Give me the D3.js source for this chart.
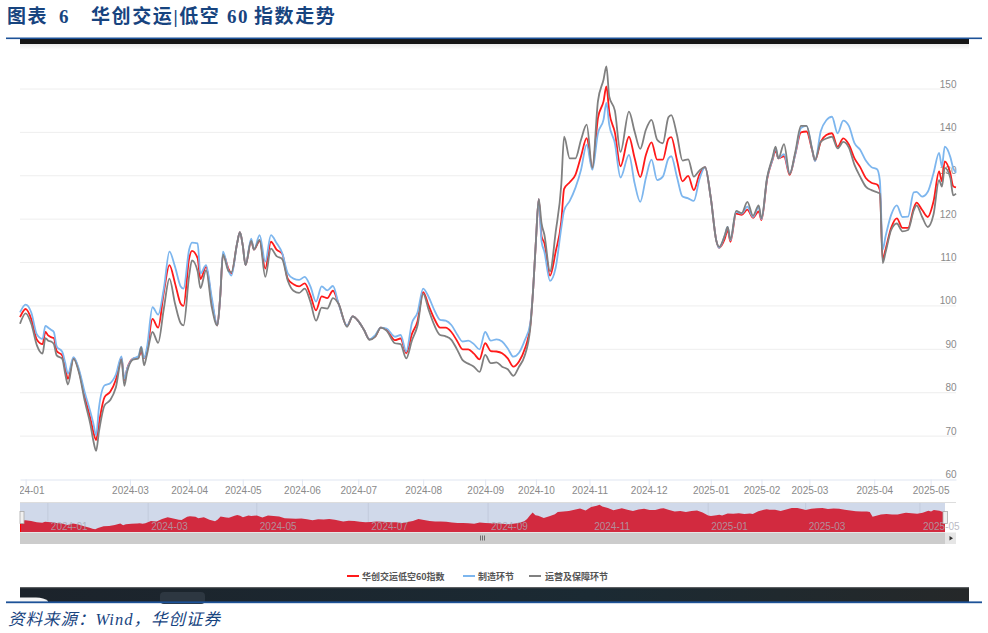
<!DOCTYPE html>
<html>
<head>
<meta charset="utf-8">
<script src="https://cdn.jsdelivr.net/npm/d3@7/dist/d3.min.js"></script>
<style>
  body { margin: 0; background: #fff; }
  svg { display: block; }
</style>
</head>
<body>
<div id="graph-container"></div>
<script>
// trading day offset of every reading
const tradeDays = [
  0,2,4,6,8,9,10,11,12,13,15,16,17,19,21,23,25,26,27,28,
  30,32,34,36,37,38,40,42,43,44,45,47,49,51,53,55,57,58,60,61,
  63,64,66,68,70,71,72,74,75,77,78,79,80,82,83,85,87,89,91,93,
  95,97,99,101,103,105,107,109,111,113,116,118,120,122,124,126,128,130,133,135,
  137,139,141,143,145,147,149,151,153,155,157,159,161,163,165,167,169,171,173,175,
  177,179,181,182,183,184,185,186,188,190,192,193,195,197,199,201,203,205,207,208,
  209,211,213,216,218,220,222,224,226,228,230,231,233,235,237,239,241,243,245,247,
  248,250,251,252,254,256,258,260,262,263,265,267,268,269,271,273,275,277,279,281,
  282,284,286,288,290,292,294,296,298,300,302,304,305,306,307,309,311,313,315,317,
  318,320,322,324,326,327,328,330,331,332
];

// 华创交运低空60指数
const lowAltIndex = [
  97.4,99.3,97,92.2,91.2,94,93.2,92.8,92.6,89.6,88.6,85.8,83.2,88,84.8,79,74,71,69.1,73,
  79,80.2,83,88,82.9,85.5,87.8,88.1,89.5,87.9,89.5,97,95,103.1,109.4,105.2,100.5,100,111,112.7,
  111,106.2,109,101.2,95.5,102,112,108.5,107.5,114.4,117,114,109.4,115,113,115,108.6,114.8,113,112,
  106.2,105,104.5,105.2,102.5,99,102.2,101.8,103.5,100.5,95.4,97.6,96.5,94.5,92.3,93,95,94.5,92.1,92.5,
  89.1,93.5,96.5,103.2,100,97,95,95,94,92,90,90,89,87.7,91.4,89.6,89.5,89.1,87.9,86,
  87.2,90,95.5,103.7,115,124.6,116,114.5,107,112.5,119.5,127,128.5,130.2,134.5,138.7,131.8,143.3,147.2,150.6,
  144.8,140,132.2,139,134.1,129.7,134.8,137.7,133.7,133.7,138.5,138.9,133.7,128.7,130,126.7,130.3,132,125,115,
  113.4,115.5,117.5,114.8,121.3,121,122.2,120.3,121.8,119.8,129.2,133.8,135.8,134,134.5,130.2,135,140,140.2,135.8,
  133.5,137.8,139.4,139.8,136.7,138.6,137.2,134,132,129.5,128.4,128,126.7,110.7,113,118,120.2,118,118,122.5,
  123.8,122.1,120.5,124,131,128.7,133.3,130.5,127.6,127.3
];

// 制造环节
const manufacturing = [
  98.5,100.3,98.5,93.4,92.4,95.4,95,94.5,94,90.7,89.4,87,84.4,88.2,85.2,80,75.5,73,70.2,76.5,
  81.7,82.2,84.2,88.4,83.2,85.5,87.8,88.4,90.6,88,90.3,99.7,98,103.9,112.5,109,104.5,104,113,114.6,
  114.4,107.5,109.4,102,95.5,102,112.5,108,107,114.4,117,114,109.4,115.5,113,116.3,110.2,116.3,114.5,112.2,
  107.5,106.3,106,106.7,104.5,101,104.5,103.6,104.6,100.5,95.5,97.6,96.5,94.5,92.3,93.3,95,94.8,92.9,93.3,
  89.5,96,98.5,104,102,99,96.8,96.6,95.6,93.5,91.8,92,91.2,90,94,92,92.3,91.8,90.2,88.3,
  89.2,92,96,103.7,115,124.6,114.8,112.5,105.8,108.8,118,122,124.2,127.2,131.4,137.2,131.4,139.8,143,146.8,
  141.8,137.5,129.6,134.8,128.3,124,129.5,133.7,129,129.8,134,134.5,129.8,125.2,124.8,124.2,129.2,132,125,115,
  113.4,116.3,118.2,115.1,121.7,121.3,122.9,120.5,122.8,120,129.4,134,136.5,134,135,130.5,135,141,141.5,136,
  133.4,140.2,142.8,143.6,139.8,142.7,141.5,137.5,136,133.5,132,131.5,128.9,113,116,121,123.2,120.5,120.6,126.2,
  126.3,125.2,126.3,130.5,135.3,132.1,136.7,134.3,131.8,130.7
];

// 运营及保障环节
const logistics = [
  95.9,98.3,95.9,90.9,89,92.6,92,91.8,91.2,88.6,87.8,84.5,81.9,87.8,84.4,78,72.6,69,66.6,71,
  77.1,78.3,81.2,87.6,81.6,84.8,87.6,87.9,90.5,86.3,88.7,94,91.5,99.3,106.3,100.5,96,95.5,107,110.5,
  108,104.1,108.2,99.8,95.5,102,111.8,108,107.8,114.4,117,114,109.4,115,113,115.2,106.7,113.2,111.5,110.8,
  105.8,103.5,103,104,101,96.6,99.6,99.4,101.8,100.5,95.2,97.6,96.5,94.5,92.2,92.9,95,94.3,91.4,91.2,
  87.9,92,95.5,102.8,99,95.5,93.3,93,92.2,90,87.5,86.7,86,84.8,88.7,86.8,87,86,85.4,83.9,
  86,88.5,95,103.7,115,124.6,119,116.4,108,117,128,139,134,134,138.3,141.8,131.8,147.2,152.2,155.2,
  148.3,145,135.5,144.8,140.2,136.2,140.6,142.9,138.3,137.5,143.5,144,139.5,133.5,133.8,129.8,131.2,132,125,115,
  113.6,116.3,118.2,115.3,121.9,121.4,124,120.8,123.2,120.2,129.6,134.4,136.7,134,137.3,130.4,135.5,141.5,141.5,136,
  133.6,137.8,138.6,139,136.3,137.8,136.5,132.5,129.8,127.5,126.7,126.2,125.9,109.9,112.3,117.5,119,117.2,117.5,122,
  123.2,120.5,118.2,121,129,127.5,131.8,129.5,125.5,125.9
];

const yTicks = [60, 70, 80, 90, 100, 110, 120, 130, 140, 150];
const xTickDays = [2, 39, 60, 79, 100, 120, 143, 165, 183, 202, 223, 245, 263, 280, 303, 323];
const xTickLabels = ["2024-01", "2024-03", "2024-04", "2024-05", "2024-06", "2024-07", "2024-08", "2024-09",
  "2024-10", "2024-11", "2024-12", "2025-01", "2025-02", "2025-03", "2025-04", "2025-05"];
const navTickDays = [10, 46, 85, 125, 168, 205, 247, 282, 323];
const navTickLabels = ["2024-01", "2024-03", "2024-05", "2024-07", "2024-09", "2024-11", "2025-01", "2025-03", "2025-05"];
const seriesNames = ["华创交运低空60指数", "制造环节", "运营及保障环节"];
const seriesColors = ["#ff1a1a", "#7db6ee", "#808080"];

const svgWidth = 988;
const svgHeight = 633;
const blue = "#17447f";
const serifCjk = "'Liberation Serif', 'Noto Sans CJK SC', serif";

const svg = d3.select("#graph-container").append("svg")
  .attr("width", svgWidth)
  .attr("height", svgHeight)
  .style("background", "#fff");

const defs = svg.append("defs");
defs.append("clipPath").attr("id", "plot-clip")
  .append("rect").attr("x", 20).attr("y", 40).attr("width", 949).attr("height", 470);
const fade = defs.append("linearGradient").attr("id", "top-fade")
  .attr("x1", 0).attr("x2", 0).attr("y1", 0).attr("y2", 1);
fade.append("stop").attr("offset", 0).attr("stop-color", "#e9e9e9");
fade.append("stop").attr("offset", 1).attr("stop-color", "#fff");
const bottomFill = defs.append("linearGradient").attr("id", "bottom-fill");
bottomFill.append("stop").attr("offset", 0).attr("stop-color", "#1c232b");
bottomFill.append("stop").attr("offset", 0.6).attr("stop-color", "#1b2a33");
bottomFill.append("stop").attr("offset", 1).attr("stop-color", "#252829");

// Title
function titleText(x, str) {
  svg.append("text")
    .attr("x", x).attr("y", 23)
    .attr("font-family", serifCjk)
    .attr("font-weight", 700)
    .attr("font-size", 19)
    .attr("letter-spacing", 1.6)
    .attr("fill", blue)
    .text(str);
}
titleText(7, "图表");
titleText(59, "6");
titleText(91, "华创交运|低空");
titleText(227, "60");
titleText(254, "指数走势");

// Header and footer rules with the dark screenshot bars
svg.append("rect").attr("x", 20).attr("y", 38).attr("width", 949).attr("height", 6).attr("fill", "#141414");
svg.append("rect").attr("x", 20).attr("y", 44).attr("width", 949).attr("height", 6).attr("fill", "url(#top-fade)");
svg.append("rect").attr("x", 6).attr("y", 37.5).attr("width", 976).attr("height", 1.6).attr("fill", "#1d5298");

svg.append("rect").attr("x", 20).attr("y", 587).attr("width", 949).attr("height", 15).attr("fill", "url(#bottom-fill)");
svg.append("rect").attr("x", 20).attr("y", 587).attr("width", 949).attr("height", 1.2).attr("fill", "#5c5f62");
svg.append("rect").attr("x", 160).attr("y", 592).attr("width", 45).attr("height", 12).attr("rx", 4).attr("fill", "#2d3741");
svg.append("path").attr("d", "M20 597.5H36Q44 597.5 48 601V602H20Z").attr("fill", "#f4f4f4");
svg.append("rect").attr("x", 6).attr("y", 601.4).attr("width", 976).attr("height", 1.8).attr("fill", "#1d5298");

svg.append("text")
  .attr("x", 8).attr("y", 625)
  .attr("font-family", serifCjk)
  .attr("font-style", "italic")
  .attr("font-size", 16.5)
  .attr("letter-spacing", 1)
  .attr("fill", blue)
  .text("资料来源\uFF1AWind\uFF0C华创证券");

// Scales
const x = d3.scaleLinear().domain([0, 332]).range([20, 956]);
const y = d3.scaleLinear().domain([60, 150]).range([479.5, 89]);

// Grid
svg.append("g").selectAll("line")
  .data(yTicks.slice(1))
  .join("line")
  .attr("x1", 20).attr("x2", 956)
  .attr("y1", d => y(d)).attr("y2", d => y(d))
  .attr("stroke", "#eeeeee")
  .attr("stroke-width", 1);

// Y axis, labels sit above their grid lines
const yAxis = svg.append("g")
  .attr("transform", "translate(956.5,0)")
  .call(d3.axisLeft(y).tickValues(yTicks).tickSize(0).tickPadding(0));
yAxis.select(".domain").remove();
yAxis.selectAll("text")
  .attr("dy", "-0.2em")
  .attr("font-family", "'Liberation Sans', sans-serif")
  .attr("font-size", 10)
  .attr("fill", "#8a8a8a");

// X axis
const xAxis = svg.append("g")
  .attr("clip-path", "url(#plot-clip)")
  .append("g")
  .attr("transform", "translate(0,479.5)")
  .call(d3.axisBottom(x)
    .tickValues(xTickDays)
    .tickFormat((d, i) => xTickLabels[i])
    .tickSize(7)
    .tickPadding(0)
    .tickSizeOuter(0));
xAxis.select(".domain").attr("stroke", "#dfe5f2").attr("stroke-width", 1.2);
xAxis.selectAll(".tick line").attr("stroke", "#dfe5f2");
xAxis.selectAll("text")
  .attr("font-family", "'Liberation Sans', sans-serif")
  .attr("font-size", 10)
  .attr("fill", "#8a8a8a");

// Lines
const line = d3.line()
  .x((d, i) => x(tradeDays[i]))
  .y(d => y(d))
  .curve(d3.curveMonotoneX);

const seriesValues = [lowAltIndex, manufacturing, logistics];
svg.append("g").selectAll("path")
  .data(seriesValues)
  .join("path")
  .attr("d", line)
  .attr("fill", "none")
  .attr("stroke", (d, i) => seriesColors[i])
  .attr("stroke-width", 1.8)
  .attr("stroke-linejoin", "round");

// Navigator below the chart
const navX = d3.scaleLinear().domain([0, 332]).range([20, 945]);
const navY = d3.scaleLinear().domain([60, 150]).range([532, 505]);
const nav = svg.append("g");
nav.append("rect").attr("x", 20).attr("y", 502.5).attr("width", 925).attr("height", 29.5).attr("fill", "#d0d9ea");
nav.append("line").attr("x1", 20).attr("x2", 956).attr("y1", 502.5).attr("y2", 502.5).attr("stroke", "#dddddd");
nav.append("g").selectAll("line")
  .data(navTickDays)
  .join("line")
  .attr("x1", d => navX(d)).attr("x2", d => navX(d))
  .attr("y1", 503).attr("y2", 532)
  .attr("stroke", "#c2cbdc");

nav.append("path")
  .datum(lowAltIndex)
  .attr("d", d3.area()
    .x((d, i) => navX(tradeDays[i]))
    .y0(532)
    .y1(d => navY(d)))
  .attr("fill", "#d22a3f");
nav.append("line").attr("x1", 20.5).attr("x2", 20.5).attr("y1", 521).attr("y2", 532).attr("stroke", "#ff0000");

nav.append("g").selectAll("text")
  .data(navTickDays)
  .join("text")
  .attr("x", d => navX(d) + 3)
  .attr("y", 530)
  .attr("font-family", "'Liberation Sans', sans-serif")
  .attr("font-size", 10)
  .attr("fill", "#a9a9b4")
  .attr("fill-opacity", 0.8)
  .text((d, i) => navTickLabels[i]);

// Slider handles
[[20, 24], [943, 947.5]].forEach(h => {
  nav.append("rect")
    .attr("x", h[0]).attr("y", 511.5).attr("width", h[1] - h[0]).attr("height", 12)
    .attr("fill", "#f0f0f0").attr("stroke", "#aaaaaa").attr("stroke-width", 0.8);
});

// Scrollbar
nav.append("rect").attr("x", 20).attr("y", 532.5).attr("width", 925).attr("height", 11.5).attr("fill", "#cccccc");
nav.append("rect").attr("x", 945).attr("y", 532.5).attr("width", 11).attr("height", 11.5).attr("fill", "#e6e6e6");
nav.append("path").attr("d", "M949.5 536L953 538.2L949.5 540.4Z").attr("fill", "#333");
[480.5, 482.5, 484.5].forEach(gx => {
  nav.append("line").attr("x1", gx).attr("x2", gx).attr("y1", 535.5).attr("y2", 540.5)
    .attr("stroke", "#555").attr("stroke-width", 0.8);
});

// Legend
const legendItems = [
  { lineX: 347, textX: 362 },
  { lineX: 463, textX: 478 },
  { lineX: 529, textX: 545 }
];
const legend = svg.append("g").selectAll("g")
  .data(legendItems)
  .join("g");
legend.append("line")
  .attr("x1", d => d.lineX).attr("x2", d => d.lineX + 12)
  .attr("y1", 576).attr("y2", 576)
  .attr("stroke", (d, i) => seriesColors[i])
  .attr("stroke-width", 2);
legend.append("text")
  .attr("x", d => d.textX).attr("y", 579.5)
  .attr("font-family", "'Noto Sans CJK SC', sans-serif")
  .attr("font-size", 9)
  .attr("font-weight", 700)
  .attr("fill", "#555")
  .text((d, i) => seriesNames[i]);
</script>
</body>
</html>
